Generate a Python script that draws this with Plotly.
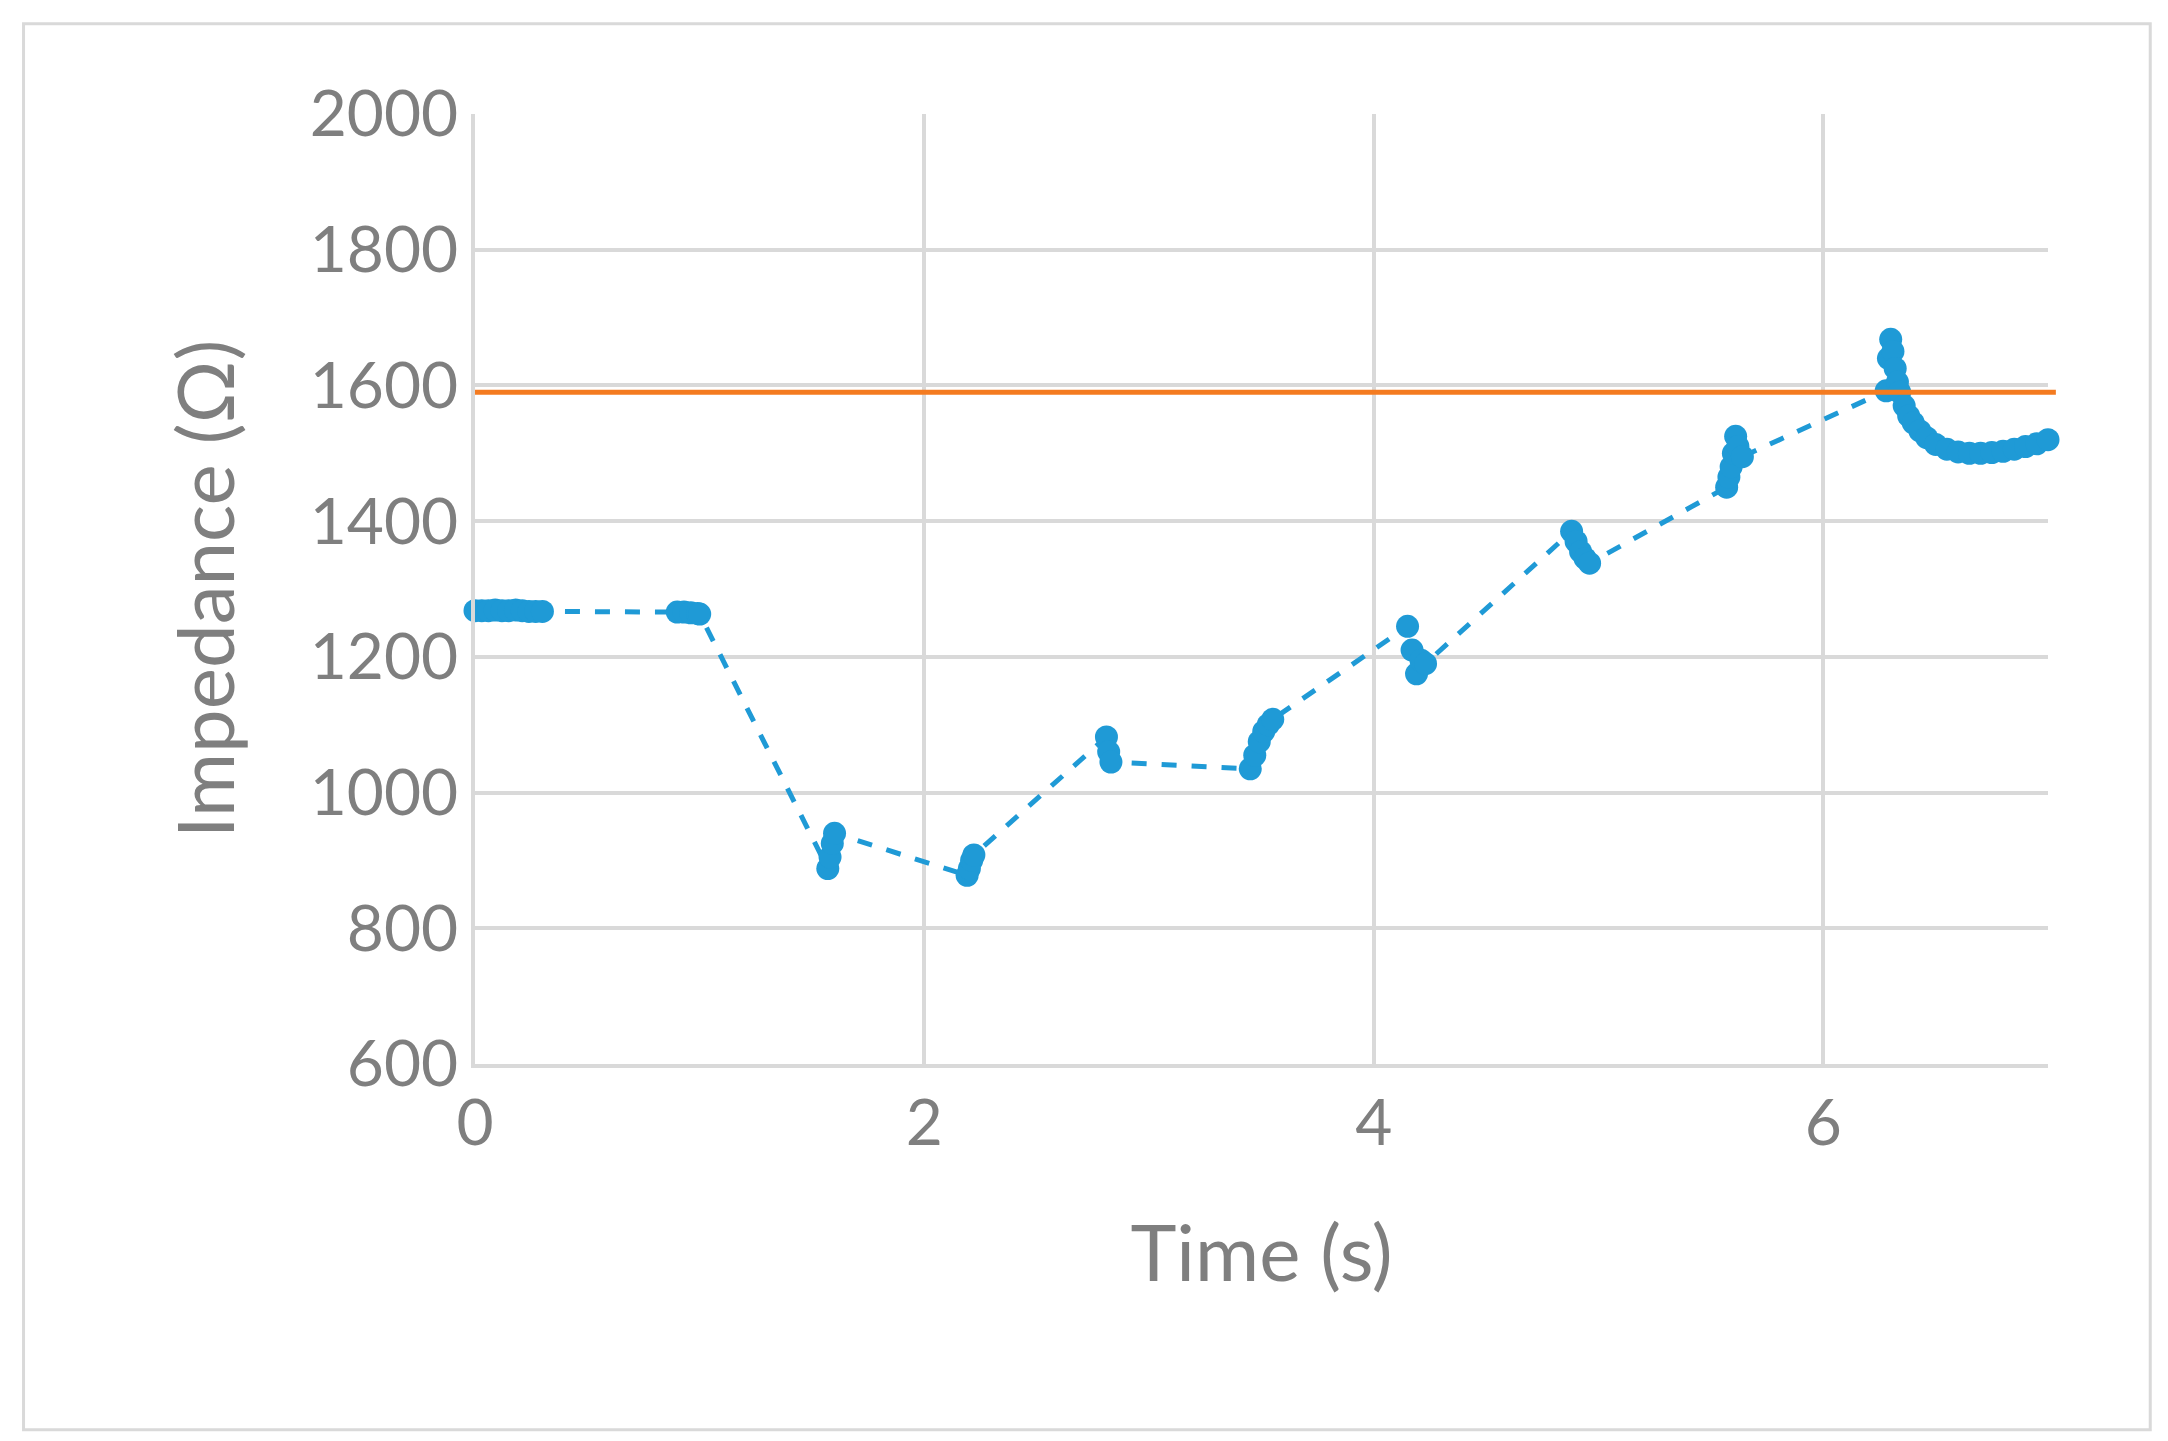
import plotly.graph_objects as go

time_s = [0.0,0.03,0.06,0.09,0.12,0.15,0.18,0.21,0.24,0.27,0.30,
          0.90,0.93,0.96,0.99,1.0,
          1.57,1.58,1.59,1.60,
          2.19,2.20,2.21,2.22,
          2.81,2.82,2.83,
          3.45,3.47,3.49,3.51,3.53,3.55,
          4.15,4.17,4.19,4.21,4.23,
          4.88,4.90,4.92,4.94,4.96,
          5.57,5.58,5.59,5.60,5.61,5.62,5.64,
          6.28,6.29,6.30,6.31,6.32,6.33,6.34,6.36,6.38,6.40,6.43,6.46,6.50,6.55,6.60,6.65,6.70,6.75,6.80,6.85,6.90,6.95,7.0]
impedance = [1268,1268,1268,1269,1268,1268,1269,1268,1267,1267,1267,
             1266,1266,1265,1264,1263,
             888,905,925,940,
             878,888,900,908,
             1082,1060,1045,
             1035,1055,1075,1090,1100,1108,
             1245,1210,1175,1195,1190,
             1385,1370,1355,1345,1338,
             1450,1465,1480,1500,1525,1510,1495,
             1592,1640,1668,1650,1625,1605,1590,1570,1555,1545,1533,1523,1513,1506,1502,1500,1500,1501,1503,1506,1510,1514,1520]
threshold = 1590

fig = go.Figure()
fig.add_trace(go.Scatter(x=time_s, y=impedance, mode="lines+markers",
    line=dict(color="#1f9ad6", width=5, dash="dash"),
    marker=dict(color="#1f9ad6", size=23), showlegend=False, cliponaxis=False))
fig.add_shape(type="line", xref="paper", yref="y", x0=0, x1=1.005, y0=threshold, y1=threshold,
              line=dict(color="#f47b20", width=5))
fig.add_shape(type="rect", xref="paper", yref="paper", x0=-0.287, x1=1.065, y0=-0.385, y1=1.095,
              line=dict(color="#d9d9d9", width=3))
ax = dict(showgrid=True, gridcolor="#d9d9d9", gridwidth=4, zeroline=False,
          tickfont=dict(size=64, color="#7f7f7f"), showline=True, linecolor="#d9d9d9", linewidth=4)
fig.update_xaxes(range=[0,7], tickvals=[0,2,4,6], title=dict(text="Time (s)", font=dict(size=78, color="#7f7f7f"), standoff=70), ticks="", **ax)
fig.update_yaxes(range=[600,2000], dtick=200, title=dict(text="Impedance (Ω)", font=dict(size=78, color="#7f7f7f"), standoff=50), ticks="", **ax)
fig.update_layout(width=2168, height=1441, plot_bgcolor="white", paper_bgcolor="white",
                  font=dict(family="Lato"), margin=dict(l=467, r=128, t=106, b=385))
fig.write_html("out.html")
